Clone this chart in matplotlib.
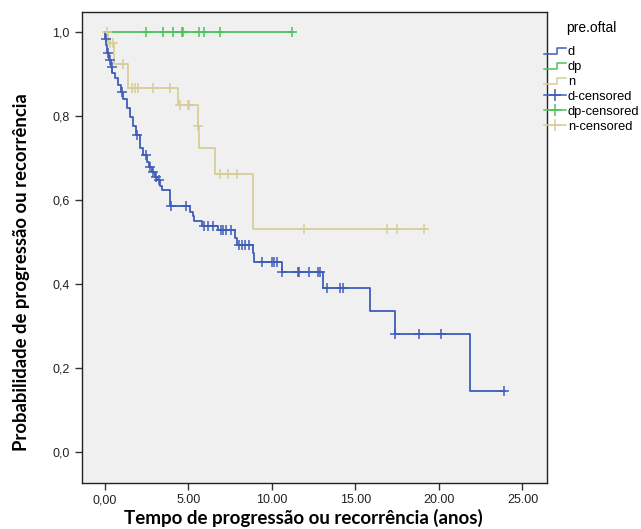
import numpy as np
import matplotlib
matplotlib.use("Agg")
import matplotlib.pyplot as plt
from matplotlib.legend_handler import HandlerBase
from matplotlib.lines import Line2D

# ---- data ----
groups = ["d", "dp", "n"]

d_times = [0, 0.02, 0.08, 0.15, 0.25, 0.35, 0.45, 0.6, 0.8, 0.95, 1.1, 1.3, 1.5, 1.7,
           1.85, 2.1, 2.3, 2.55, 2.65, 2.8, 3.0, 3.15, 3.3, 3.4, 3.9, 5.1, 5.25, 5.35,
           5.8, 6.8, 7.8, 7.9, 8.85, 8.93, 10.63, 13.05, 15.89, 17.39, 21.88]
d_surv = [1.0, 0.984, 0.97, 0.95, 0.934, 0.918, 0.902, 0.89, 0.874, 0.858, 0.84, 0.819,
          0.798, 0.775, 0.755, 0.723, 0.707, 0.691, 0.679, 0.667, 0.655, 0.647, 0.632,
          0.624, 0.585, 0.572, 0.562, 0.55, 0.538, 0.528, 0.508, 0.492, 0.474, 0.453,
          0.427, 0.389, 0.336, 0.280, 0.145]
d_end = 23.95
d_censored = [0.04, 0.2, 0.3, 0.4, 1.0, 1.92, 2.45, 2.7, 2.9, 3.05, 3.25, 3.95, 4.85,
              5.95, 6.2, 6.45, 6.95, 7.05, 7.25, 7.55, 8.0, 8.2, 8.4, 8.6, 9.43, 9.99,
              10.13, 10.29, 10.63, 11.55, 11.63, 12.23, 12.73, 12.85, 13.29, 14.05, 14.25,
              17.39, 18.78, 20.13, 23.88]

dp_times = [0]
dp_surv = [1.0]
dp_end = 11.25
dp_censored = [2.45, 3.5, 4.1, 4.6, 4.7, 5.65, 5.95, 6.9, 11.2]

n_times = [0, 0.2, 0.56, 1.4, 4.36, 5.58, 5.65, 6.6, 8.89]
n_surv = [1.0, 0.974, 0.923, 0.866, 0.826, 0.775, 0.723, 0.662, 0.531]
n_end = 19.2
n_censored = [0.13, 0.3, 0.5, 1.1, 1.6, 1.8, 2.0, 2.9, 3.9, 4.5, 5.0, 5.05, 5.58,
              6.9, 7.4, 7.9, 11.9, 16.9, 17.5, 19.1]

x_ticks = [0, 5, 10, 15, 20, 25]
x_ticklabels = ["0,00", "5.00", "10.00", "15.00", "20.00", "25.00"]
y_ticks = [0.0, 0.2, 0.4, 0.6, 0.8, 1.0]
y_ticklabels = ["0,0", "0,2", "0,4", "0,6", "0,8", "1,0"]

colors = {"d": "#3F5DB8", "dp": "#4EC15C", "n": "#D6CE98"}

# ---- figure ----
fig = plt.figure(figsize=(6.41, 5.29), dpi=100)
ax = fig.add_axes([81.5 / 641, 46 / 529, 465 / 641, 471 / 529])
ax.set_facecolor("#F0F0F0")

series = {
    "d": (d_times, d_surv, d_end, d_censored),
    "dp": (dp_times, dp_surv, dp_end, dp_censored),
    "n": (n_times, n_surv, n_end, n_censored),
}

order = ["n", "dp", "d"]
for g in order:
    t, s, end, cens = series[g]
    t = np.asarray(t, float)
    s = np.asarray(s, float)
    ax.step(np.append(t, end), np.append(s, s[-1]), where="post",
            color=colors[g], lw=1.3, zorder=2)
    c = np.asarray(cens, float)
    idx = np.searchsorted(t, c, side="right") - 1
    ax.plot(c, s[idx], linestyle="none", marker="+", markersize=7,
            markeredgewidth=1.1, color=colors[g], zorder=3)

ax.set_xlim(-1.40, 26.44)
ax.set_ylim(-0.075, 1.048)
ax.set_xticks(x_ticks)
ax.set_xticklabels(x_ticklabels)
ax.set_yticks(y_ticks)
ax.set_yticklabels(y_ticklabels)
ax.tick_params(axis="both", direction="out", length=5, width=1, color="#333333",
               labelsize=9, labelcolor="#222222")
ax.tick_params(axis="x", pad=3)
for lab in ax.get_xticklabels() + ax.get_yticklabels():
    lab.set_fontfamily("Liberation Sans")
for sp in ax.spines.values():
    sp.set_color("#222222")
    sp.set_linewidth(1.0)

ax.set_xlabel("Tempo de progressão ou recorrência (anos)", fontsize=13.5,
              fontweight="bold", family="Lato")
ax.set_ylabel("Probabilidade de progressão ou recorrência", fontsize=13.3,
              fontweight="bold", family="Lato")
ax.xaxis.set_label_coords(0.477, -0.054)
ax.yaxis.set_label_coords(-0.111, 0.448)


# ---- legend ----
class HandlerStep(HandlerBase):
    def create_artists(self, legend, orig_handle, xdescent, ydescent, width,
                       height, fontsize, trans):
        x0, x1 = -xdescent, -xdescent + width
        xm = x0 + 0.6 * width
        ylo = -ydescent + 0.15 * height
        yhi = -ydescent + 0.75 * height
        line = Line2D([x0, xm, xm, x1], [ylo, ylo, yhi, yhi],
                      color=orig_handle.get_color(), lw=1.1, transform=trans)
        return [line]


step_handles = [Line2D([], [], color=colors[g]) for g in groups]
cens_handles = [Line2D([], [], color=colors[g], lw=1.1, marker="+", markersize=8,
                       markeredgewidth=1.1) for g in groups]
handles = step_handles + cens_handles
labels = groups + [g + "-censored" for g in groups]
handler_map = {h: HandlerStep() for h in step_handles}

leg = fig.legend(handles, labels, handler_map=handler_map,
                 loc="upper left", bbox_to_anchor=(544 / 641, 1 - 21 / 529),
                 frameon=False, title="pre.oftal",
                 handlelength=1.7, handletextpad=0.15,
                 labelspacing=0.22, borderpad=0, borderaxespad=0,
                 prop={"family": "Liberation Sans", "size": 9.3})
leg.get_title().set_fontfamily("Liberation Sans")
leg.get_title().set_fontsize(10)
leg._legend_box.sep = 8

fig.savefig("out.png", dpi=100, facecolor="white")
